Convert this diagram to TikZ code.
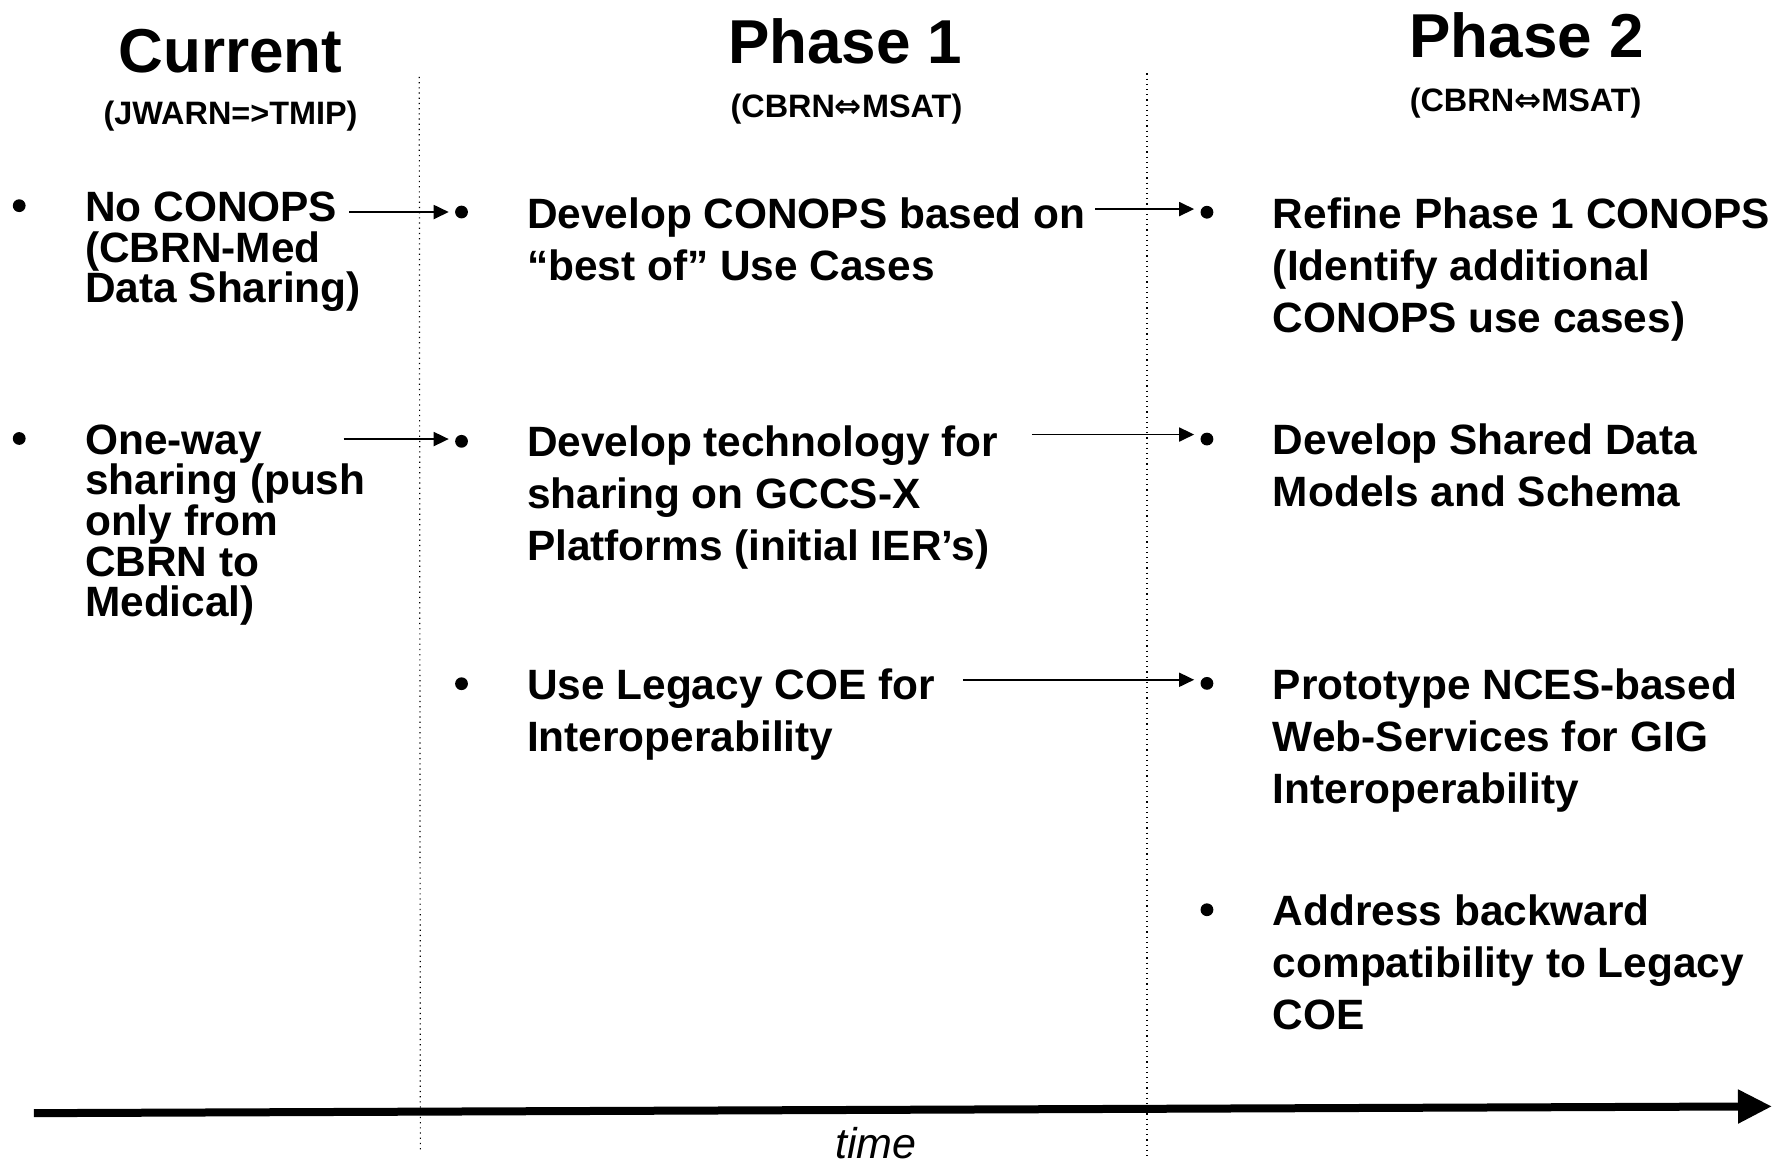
\documentclass[tikz,border=0pt]{standalone}
\usepackage{fontspec}
\setmainfont{Liberation Sans}
\newfontfamily\symfont{DejaVu Sans}
\usetikzlibrary{arrows.meta}
\begin{document}
\begin{tikzpicture}[x=0.56505pt,y=-0.56505pt,
  title/.style={font=\bfseries\fontsize{31}{36}\selectfont, inner sep=0pt, anchor=base},
  subtitle/.style={font=\bfseries\fontsize{16.2}{19}\selectfont, inner sep=0pt, anchor=base},
  itemA/.style={font=\bfseries\fontsize{21.2}{20.3}\selectfont, inner sep=0pt, anchor=base west, align=left},
  itemB/.style={font=\bfseries\fontsize{21.2}{26}\selectfont, inner sep=0pt, anchor=base west, align=left},
  bul/.style={circle, fill=black, draw=none, minimum size=6.4pt, inner sep=0pt},
  link/.style={-{Triangle[length=7.5pt,width=7pt]}, line width=0.9pt, shorten >=3pt},
  sep/.style={dotted, line width=0.6pt},
  timeline/.style={line width=4pt, -{Triangle[length=17pt,width=16pt]}},
]
\useasboundingbox (0,0) rectangle (1568,1030);

% headers
\node[title] (hc) at (204,64) {Current};
\node[subtitle] (sc) at (204,110.5) {(JWARN=>TMIP)};
\node[title] (h1) at (748,56) {Phase 1};
\node[subtitle] (s1) at (749,104) {(CBRN{\symfont ⇔}MSAT)};
\node[title] (h2) at (1351,51) {Phase 2};
\node[subtitle] (s2) at (1350,99) {(CBRN{\symfont ⇔}MSAT)};

% separators
\coordinate (d1t) at (371,68);
\coordinate (d1b) at (372,1020);
\coordinate (d2t) at (1015,65);
\coordinate (d2b) at (1015,1025);
\draw[sep] (d1t) -- (d1b);
\draw[sep] (d2t) -- (d2b);

% column 1 (text nodes anchored at the baseline of their last line)
\node[bul] (b11) at (17,182) {};
\node[itemA] (t11) at (75,267.9) {No CONOPS\\(CBRN-Med\\Data Sharing)};
\node[bul] (b12) at (17,388) {};
\node[itemA] (t12) at (75,545.7) {One-way\\sharing (push\\only from\\CBRN to\\Medical)};

% column 2
\node[bul] (b21) at (408.4,187.6) {};
\node[itemB] (t21) at (466,248) {Develop CONOPS based on\\“best of” Use Cases};
\node[bul] (b22) at (408.4,390.5) {};
\node[itemB] (t22) at (466,496) {Develop technology for\\sharing on GCCS-X\\Platforms (initial IER’s)};
\node[bul] (b23) at (408.4,605) {};
\node[itemB] (t23) at (466,665) {Use Legacy COE for\\Interoperability};

% column 3
\node[bul] (b31) at (1068,187.8) {};
\node[itemB] (t31) at (1126,294) {Refine Phase 1 CONOPS\\(Identify additional\\CONOPS use cases)};
\node[bul] (b32) at (1068,388.5) {};
\node[itemB] (t32) at (1126,448) {Develop Shared Data\\Models and Schema};
\node[bul] (b33) at (1068,604.7) {};
\node[itemB] (t33) at (1126,711) {Prototype NCES-based\\Web-Services for GIG\\Interoperability};
\node[bul] (b34) at (1068,805) {};
\node[itemB] (t34) at (1126,911) {Address backward\\compatibility to Legacy\\COE};

% links
\coordinate (a1) at (309,187.6);
\coordinate (a2) at (304,388.5);
\coordinate (a3) at (969,185);
\coordinate (a4) at (913,384.5);
\coordinate (a5) at (852,601.5);
\draw[link] (a1) -- (a1 -| b21.west);
\draw[link] (a2) -- (a2 -| b22.west);
\draw[link] (a3) -- (a3 -| b31.west);
\draw[link] (a4) -- (a4 -| b32.west);
\draw[link] (a5) -- (a5 -| b33.west);

% time axis
\coordinate (t0) at (30,985);
\coordinate (t1) at (1568,979);
\draw[timeline] (t0) -- (t1);
\node[font=\itshape\fontsize{21.5}{24}\selectfont, inner sep=0pt, anchor=base] (tl) at (775,1025) {time};
\end{tikzpicture}
\end{document}
